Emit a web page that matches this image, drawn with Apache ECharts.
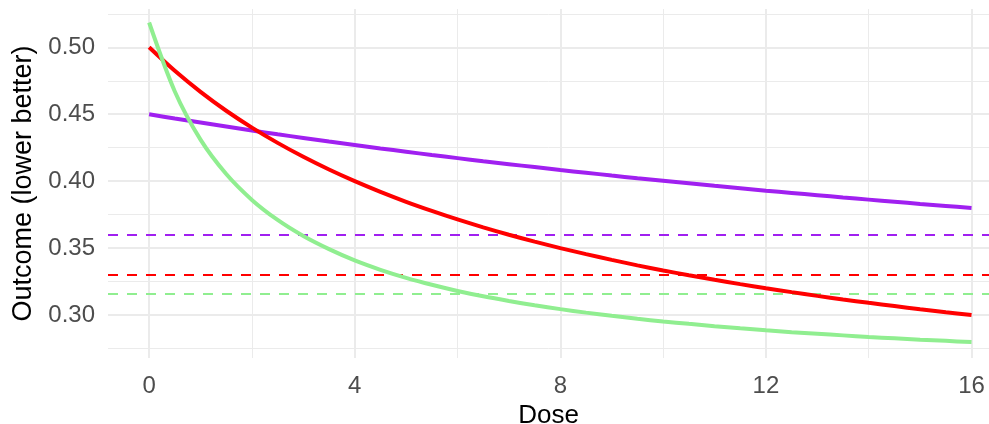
<!DOCTYPE html>
<html>
<head>
<meta charset="utf-8">
<script src="https://cdn.jsdelivr.net/npm/echarts@6/dist/echarts.min.js"></script>
<style>
html,body{margin:0;padding:0;background:#fff;}
#chart{width:989px;height:424px;}
</style>
</head>
<body>
<div id="chart"></div>
<script>
// ---- data ----
const doses = [0, 0.5, 1, 1.5, 2, 2.5, 3, 3.5, 4, 4.5, 5, 5.5, 6, 6.5, 7, 7.5, 8, 8.5, 9, 9.5, 10, 10.5, 11, 11.5, 12, 12.5, 13, 13.5, 14, 14.5, 15, 15.5, 16];
const purpleValues = [0.4500, 0.4468, 0.4438, 0.4408, 0.4378, 0.4350, 0.4323, 0.4296, 0.4270, 0.4244, 0.4220, 0.4195, 0.4172, 0.4149, 0.4127, 0.4105, 0.4083, 0.4063, 0.4042, 0.4022, 0.4003, 0.3984, 0.3965, 0.3947, 0.3929, 0.3912, 0.3895, 0.3878, 0.3862, 0.3846, 0.3830, 0.3815, 0.3800];
const redValues    = [0.5000, 0.4824, 0.4667, 0.4526, 0.4400, 0.4286, 0.4182, 0.4087, 0.4000, 0.3920, 0.3846, 0.3778, 0.3714, 0.3655, 0.3600, 0.3548, 0.3500, 0.3455, 0.3412, 0.3371, 0.3333, 0.3297, 0.3263, 0.3231, 0.3200, 0.3171, 0.3143, 0.3116, 0.3091, 0.3067, 0.3043, 0.3021, 0.3000];
const greenValues  = [0.5185, 0.4670, 0.4310, 0.4053, 0.3860, 0.3710, 0.3590, 0.3492, 0.3408, 0.3338, 0.3278, 0.3226, 0.3180, 0.3140, 0.3105, 0.3073, 0.3044, 0.3018, 0.2994, 0.2972, 0.2952, 0.2934, 0.2917, 0.2901, 0.2886, 0.2872, 0.2860, 0.2848, 0.2836, 0.2826, 0.2816, 0.2807, 0.2798];
const purpleTarget = 0.360;
const redTarget = 0.330;
const greenTarget = 0.316;
const xTicks = [0, 4, 8, 12, 16];
const xMinor = [2, 6, 10, 14];
const yTicks = [0.30, 0.35, 0.40, 0.45, 0.50];
const yMinor = [0.275, 0.325, 0.375, 0.425, 0.475, 0.525];

// ---- chart ----
const GRID = '#EBEBEB';
const pair = (xs, ys) => xs.map((x, i) => [x, ys[i]]);
function gridLines(vals, axisKey, width) {
  return vals.map(v => ({ [axisKey]: v, lineStyle: { color: GRID, width: width, type: 'solid' } }));
}
function curve(name, vals, color, target, z) {
  return {
    name: name, type: 'line', data: pair(doses, vals), smooth: 0.3,
    showSymbol: false, symbol: 'none', z: z,
    lineStyle: { color: color, width: 4 },
    markLine: {
      silent: true, symbol: 'none', z: 3, precision: 4,
      label: { show: false },
      lineStyle: { color: color, width: 2, type: [10, 9] },
      data: [{ yAxis: target }]
    }
  };
}
const chart = echarts.init(document.getElementById('chart'), null, { renderer: 'canvas' });
chart.setOption({
  animation: false,
  backgroundColor: '#ffffff',
  grid: { left: 108, right: 0, top: 9, bottom: 66, containLabel: false, outerBoundsMode: 'none' },
  xAxis: {
    type: 'value', min: -0.8, max: 16.34,
    name: 'Dose', nameLocation: 'middle', nameGap: 44,
    nameTextStyle: { fontFamily: 'Liberation Sans', fontSize: 26, color: '#000' },
    axisLine: { show: false }, axisTick: { show: false }, splitLine: { show: false },
    axisLabel: { customValues: xTicks, fontFamily: 'Liberation Sans', fontSize: 24, color: '#4D4D4D', margin: 16,
                 formatter: v => String(v) }
  },
  yAxis: {
    type: 'value', min: 0.2679, max: 0.5286,
    name: 'Outcome (lower better)', nameLocation: 'middle', nameGap: 62,
    nameTextStyle: { fontFamily: 'Liberation Sans', fontSize: 27, color: '#000' },
    axisLine: { show: false }, axisTick: { show: false }, splitLine: { show: false },
    axisLabel: { customValues: yTicks, fontFamily: 'Liberation Sans', fontSize: 24, color: '#4D4D4D', margin: 13,
                 formatter: v => v.toFixed(2) }
  },
  series: [
    {
      name: 'grid', type: 'line', data: [], z: 1, silent: true,
      markLine: {
        silent: true, symbol: 'none', z: 1, precision: 4, label: { show: false }, animation: false,
        data: [].concat(
          gridLines(xMinor, 'xAxis', 1),
          gridLines(yMinor, 'yAxis', 1),
          gridLines(xTicks, 'xAxis', 2),
          gridLines(yTicks, 'yAxis', 2)
        )
      }
    },
    curve('purple', purpleValues, '#A020F0', purpleTarget, 4),
    curve('red', redValues, '#FF0000', redTarget, 5),
    curve('green', greenValues, '#90EE90', greenTarget, 6)
  ]
});
</script>
</body>
</html>
